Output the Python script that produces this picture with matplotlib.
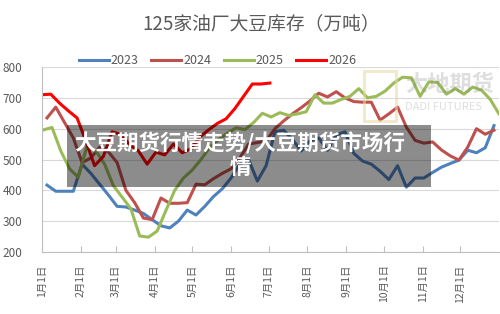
import numpy as np
import matplotlib
matplotlib.use("Agg")
import matplotlib.pyplot as plt
from matplotlib.patches import Rectangle

plt.rcParams["font.family"] = ["Noto Sans CJK SC", "DejaVu Sans"]

# weekly soybean stocks (10k t), x = day of year
month_ticks = [0, 31, 59, 90, 120, 151, 181, 212, 243, 273, 304, 334]
month_labels = [f"{m}月1日" for m in range(1, 13)]

start_2023 = 4
stock_2023 = [417, 397, 397, 397, 485, 455, 420, 385, 348, 346, 336, 325, 305,
              285, 278, 300, 336, 320, 348, 380, 405, 440, 485, 500, 430, 480,
              590, 595, 565, 528, 560, 570, 530, 580, 590, 520, 495, 485, 462,
              435, 480, 410, 440, 440, 458, 475, 487, 498, 530, 522, 538, 610]

start_2024 = 4
stock_2024 = [635, 670, 620, 570, 490, 505, 540, 525, 490, 400, 360, 310, 305,
              375, 358, 358, 360, 420, 418, 438, 455, 470, 505, 550, 555, 560,
              600, 625, 648, 668, 690, 715, 703, 720, 700, 688, 686, 686, 628,
              648, 670, 605, 562, 553, 557, 531, 512, 498, 540, 600, 582, 595]

start_2025 = 1
stock_2025 = [596, 604, 528, 470, 442, 545, 528, 485, 415, 378, 340, 252, 248,
              268, 335, 400, 440, 466, 500, 540, 565, 585, 603, 597, 620, 650,
              638, 652, 643, 648, 655, 710, 683, 683, 695, 705, 730, 700, 705,
              722, 748, 767, 765, 705, 752, 750, 712, 730, 712, 735, 725, 695, 648]

start_2026 = 0
stock_2026 = [710, 712, 683, 658, 635, 560, 480, 510, 590, 582, 548, 528, 485,
              524, 515, 550, 522, 535, 573, 596, 617, 632, 665, 705, 745, 745, 748]

series = [
    ("2023", start_2023, stock_2023, "#4F81BD"),
    ("2024", start_2024, stock_2024, "#C0504D"),
    ("2025", start_2025, stock_2025, "#9BBB59"),
    ("2026", start_2026, stock_2026, "#FF0000"),
]

grey = "#595959"

fig = plt.figure(figsize=(5.0, 3.14), dpi=100)
ax = fig.add_axes([0.084, 0.1975, 0.914, 0.589])

for name, start, vals, color in series:
    x = start + 7 * np.arange(len(vals))
    ax.plot(x, vals, color=color, lw=2.2, label=name, solid_joinstyle="round")

ax.set_xlim(0, 365)
ax.set_ylim(200, 800)
ax.set_yticks(range(200, 801, 100))
ax.set_xticks(month_ticks)
ax.set_xticklabels(month_labels, rotation=90, fontsize=7.5, color=grey)
ax.tick_params(axis="y", length=0, pad=14, labelsize=8.5, labelcolor=grey)
ax.tick_params(axis="x", direction="in", length=4, color="#BFBFBF", pad=9)
ax.grid(axis="y", color="#D9D9D9", lw=0.8)
ax.set_axisbelow(True)
for side in ("top", "right"):
    ax.spines[side].set_visible(False)
for side in ("left", "bottom"):
    ax.spines[side].set_color("#BFBFBF")

fig.text(0.522, 0.923, "125家油厂大豆库存（万吨）", ha="center", va="center",
         fontsize=13.5, color=grey)
fig.legend(loc="center", bbox_to_anchor=(0.435, 0.806), ncol=4, frameon=False,
           fontsize=9, labelcolor=grey, handlelength=2.4, handletextpad=0.15,
           columnspacing=1.0)

# faint watermark
fig.text(0.81, 0.73, "大地期货", ha="left", va="center", fontsize=16,
         color="#7F7F7F", alpha=0.25, fontweight="bold")
fig.text(0.81, 0.66, "DADI FUTURES", ha="left", va="center", fontsize=8,
         color="#7F7F7F", alpha=0.25)
fig.patches.append(Rectangle((0.727, 0.615), 0.065, 0.16, transform=fig.transFigure,
                             facecolor="none", edgecolor="#E8D9A0", lw=2, alpha=0.6))

# page overlay
fig.patches.append(Rectangle((0.134, 0.4045), 0.728, 0.1975, transform=fig.transFigure,
                             facecolor="black", alpha=0.45, zorder=10))
fig.text(0.48, 0.506, "大豆期货行情走势/大豆期货市场行\n情", ha="center", va="center",
         fontsize=15.5, fontweight="bold", color="white", linespacing=1.1, zorder=11)

fig.savefig("out.png")
